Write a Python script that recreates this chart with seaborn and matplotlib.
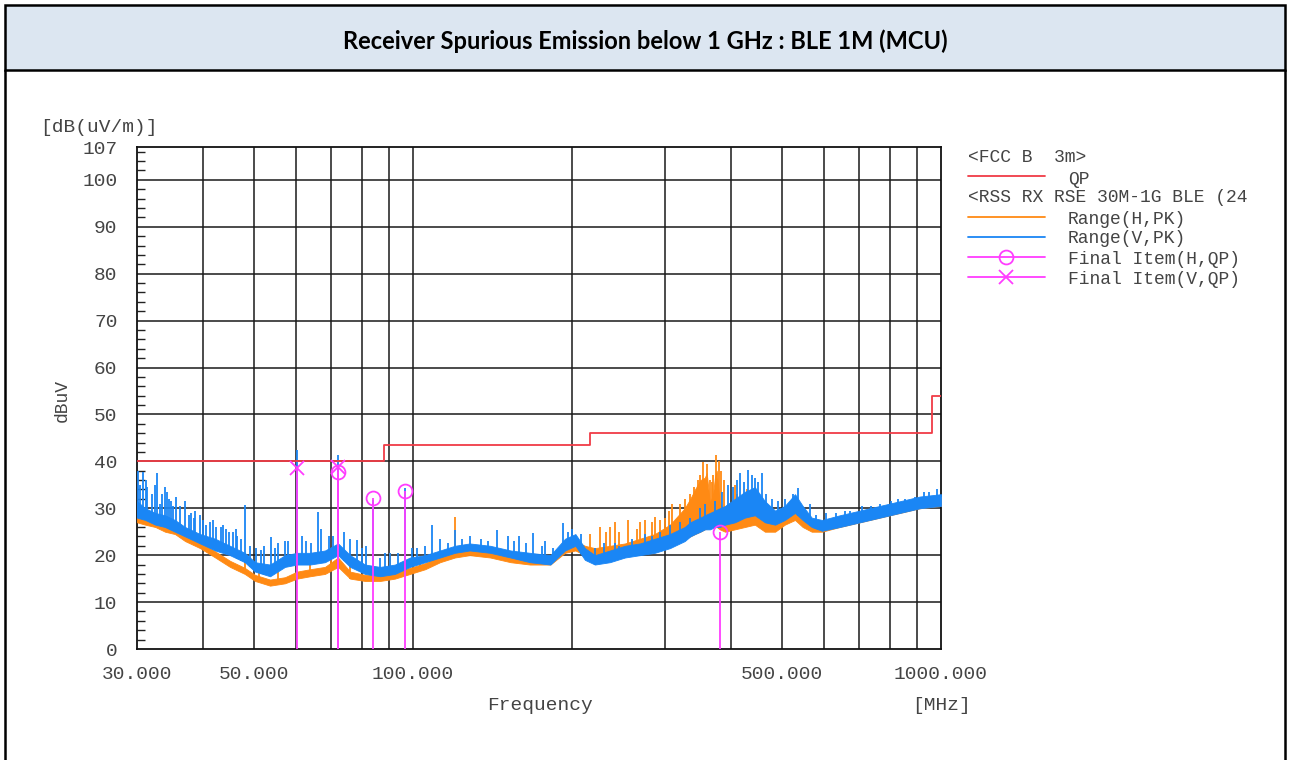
"""
Receiver Spurious Emission below 1 GHz : BLE 1M (MCU)
Recriacao do grafico de varredura (30 MHz - 1 GHz)
"""

import numpy as np
import pandas as pd
import seaborn as sns
import matplotlib.pyplot as plt
from matplotlib.lines import Line2D
from matplotlib.patches import Rectangle

# limite FCC classe B 3m (QP)
limit_f = [30, 88, 216, 960, 1000]
limit_db = [40, 43.5, 46, 54, 54]

# faixa do ruido (envelope inferior/superior)
band_f = [30.0, 31.1, 32.5, 33.9, 35.4, 37.0, 39.5, 42.2, 45.0, 48.0,
          50.2, 53.6, 57.2, 60.3, 63.8, 68.1, 72.1, 76.0, 81.1, 86.6,
          92.4, 98.7, 105.4, 112.5, 120, 128, 140, 153, 166.5, 182,
          194, 203, 211.6, 221, 236, 252, 269, 287, 306.6, 327,
          335, 342, 350, 357, 360, 365, 370, 373, 376, 381,
          390, 407, 425, 444, 464, 485, 506, 529, 547, 569,
          595, 643, 702, 766, 836, 912, 1000]
v_lo = [28, 27.5, 26.5, 26, 25, 24, 22.5, 21, 20, 18.5,
        16.5, 15.5, 17.5, 18, 18, 18.5, 20, 17.5, 16, 15.5,
        16, 17.5, 18.5, 19.5, 20.5, 21, 20.5, 19.5, 18.5, 18,
        21, 22, 19, 18, 18.5, 19.5, 20, 20.5, 21.5, 23,
        24, 24.5, 25, 25.5, 25.5, 25.5, 25.8, 26, 26, 26,
        26.5, 27, 28, 28.5, 27, 26.5, 27.5, 29, 27.5, 26,
        25.2, 26, 27, 28, 29, 30, 30.5]
v_hi = [31.5, 30, 29, 28.5, 27.5, 26, 24.5, 23.5, 22, 20.5,
        18.5, 18, 20, 20.5, 20.5, 21, 22.5, 20, 18, 17.5,
        18, 19.5, 20, 21, 22, 22.5, 22, 21, 20.5, 20,
        23.5, 24.5, 21.5, 20, 21, 22, 22.5, 23.5, 24.5, 26,
        27, 27.5, 28, 28.5, 28.7, 29, 29.3, 29.5, 29.7, 30,
        30.5, 32, 33.5, 34.5, 31.5, 29.5, 30.5, 33, 30.5, 28,
        27.5, 28.5, 29.5, 30.5, 31.5, 32.5, 33]
h_lo = [27, 26.5, 26, 25, 24.5, 23, 21.5, 19.5, 17.5, 16,
        14.5, 13.5, 14, 15, 15.5, 16, 17.5, 15, 14.5, 14.5,
        15, 16, 17, 18.5, 19.5, 20, 19.5, 18.5, 18, 18,
        20.5, 21, 20, 19.5, 20, 20.5, 21.5, 22, 22.5, 23.5,
        24, 24.5, 25, 25.5, 25.7, 26, 26, 26, 26, 25.5,
        25, 25.5, 26, 26.5, 25, 25, 26.5, 27.5, 26, 25,
        25, 26, 27, 28, 29, 30, 30.5]
h_hi = [28.5, 27.8, 27.2, 26.3, 25.8, 24.3, 22.8, 20.8, 18.8, 17.3,
        15.8, 14.8, 15.3, 16.5, 17, 17.5, 19.5, 16.5, 15.8, 15.8,
        16.3, 17.3, 18.3, 19.8, 20.8, 21.3, 20.8, 19.8, 19.3, 19.3,
        22.3, 23, 22, 21.5, 22, 22.5, 23.5, 24.5, 26.5, 30,
        32, 34, 36, 36.5, 37.5, 31, 33, 36.5, 38, 31,
        29.5, 28.5, 29, 29.5, 27.5, 27, 29, 30, 28, 26.5,
        26.5, 28, 29, 30, 31, 32, 32.5]

# picos estreitos
v_spike_f = [30.1, 30.4, 30.8, 31.2, 31.4, 32.0, 32.5, 32.8, 33.2, 33.5,
             33.9, 34.2, 34.5, 34.8, 35.1, 35.6, 36.2, 37.0, 37.6, 37.9,
             38.4, 38.7, 39.5, 40.0, 40.6, 41.2, 41.8, 42.4, 43.3, 43.6,
             44.2, 44.8, 45.5, 46.2, 46.5, 47.3, 48.1, 49.1, 50.5, 51.6,
             52.3, 53.9, 54.8, 55.6, 57.2, 58.0, 60.3, 61.5, 62.6, 64.2,
             66.2, 67.0, 69.2, 70.5, 72.1, 74.1, 76.0, 78.4, 80.0, 81.4,
             84.0, 86.6, 88.5, 90.5, 93.7, 96.5, 99.6, 101.8, 105.4, 108.6,
             112.5, 116.5, 120, 123.7, 128, 134.5, 138.6, 144.5, 151, 155,
             159, 163.5, 168.6, 175.8, 177.7, 184.5, 192, 196.5, 200, 208,
             221, 229.5, 241, 246, 259.8, 275, 283, 293, 307, 320,
             334, 349, 357, 373, 385, 395, 404, 410, 416, 423,
             431, 438, 444, 450, 458, 466, 478, 491, 506, 524,
             536, 565, 580, 605, 632, 659, 672, 709, 736, 766,
             804, 829, 853, 893, 929, 949, 982]
v_spike_db = [38, 35, 37.7, 36, 34.5, 33, 35, 37.5, 31, 33,
              34.5, 33.5, 32, 31.5, 30.5, 32.4, 30.5, 31.5, 28.5, 29,
              28, 29.5, 28.5, 27.5, 26.5, 27, 27.5, 26, 26, 26.5,
              25.5, 25, 25, 25.5, 24, 23.5, 30.7, 22, 21.5, 21,
              22, 23.9, 21.5, 22.5, 23, 23, 42.4, 24, 23, 22.5,
              29.2, 25.5, 24, 24, 41.4, 25, 23.5, 23.2, 21.5, 22,
              31.8, 19.5, 20.5, 20.5, 20.5, 34.3, 21.5, 21.5, 22, 26.4,
              23.5, 22.5, 25.4, 23.5, 24, 23.5, 23, 25.4, 24, 23,
              24, 22.5, 24.7, 22, 23, 21.5, 26.9, 25, 25.5, 24.5,
              21.5, 22.5, 22.5, 22, 23.5, 24.5, 24, 25, 26.5, 27,
              28, 30, 31, 31.5, 33.5, 35, 34.5, 36, 37.5, 35.5,
              38.2, 37, 36.5, 35.5, 37.5, 33, 32, 31.5, 32, 33,
              34.3, 31, 28.5, 29, 29, 29.5, 29.5, 30.5, 30.5, 31,
              31.5, 32, 32, 32.5, 33.5, 33.5, 34]
h_spike_f = [31.7, 34.5, 39.5, 48.1, 51, 55.6, 60.3, 63.8, 70, 72.1,
             76, 90.5, 103, 120, 216, 226, 232, 236, 241, 246,
             255, 265, 269, 275, 283, 287, 293, 300, 305, 309,
             320, 327, 334, 340, 346, 349, 354, 360, 365, 368,
             370, 375, 380, 383, 388, 407, 411, 429, 495]
h_spike_db = [28.5, 27, 24, 20.5, 17, 17, 21.5, 18.5, 19.5, 21,
              18.5, 20.4, 19, 28.2, 24.5, 26, 25, 26, 27, 25,
              27.5, 25.5, 27, 27.5, 27, 28.2, 27.5, 28, 29.5, 31,
              31, 32, 33, 34.5, 36, 37, 39.9, 39.5, 36, 35.5,
              37, 41.4, 40, 38, 36, 35, 33, 34, 29.5]

# Final Item (QP)
h_qp_f = [72.1, 84.0, 96.5, 381]
h_qp_db = [37.7, 32.2, 33.7, 24.9]
v_qp_f = [60.3, 72.1]
v_qp_db = [38.6, 38.8]

cor_h = '#ff8a14'
cor_v = '#1a86f5'
cor_lim = '#f03c46'
cor_qp = '#ff3dff'
cor_txt = '#444444'
mono = 'Liberation Mono'

sns.set_style('white')

W, H = 1290, 760
fig = plt.figure(figsize=(12.9, 7.6), dpi=100)


def px(x, y):
    return x / W, 1 - y / H


# moldura e cabecalho
fig.add_artist(Rectangle(px(5, 70), 1280 / W, 65 / H, transform=fig.transFigure,
                         facecolor='#dce6f1', edgecolor='black', lw=1.8))
fig.add_artist(Line2D([5 / W, 5 / W], [0, 1 - 70 / H], transform=fig.transFigure,
                      color='black', lw=1.8))
fig.add_artist(Line2D([1285 / W, 1285 / W], [0, 1 - 70 / H], transform=fig.transFigure,
                      color='black', lw=1.8))
fig.text(*px(645, 41), 'Receiver Spurious Emission below 1 GHz : BLE 1M (MCU)',
         ha='center', va='center', fontsize=17, fontweight='bold',
         family='Lato', color='black')

x0, y0 = px(137, 649)
x1, y1 = px(941, 147)
ax = fig.add_axes([x0, y0, x1 - x0, y1 - y0])
ax.set_xscale('log')
ax.set_xlim(30, 1000)
ax.set_ylim(0, 107)

# grade
for g in [40, 50, 60, 70, 80, 90, 100, 200, 300, 400, 500, 600, 700, 800, 900]:
    ax.axvline(g, color='#1a1a1a', lw=1.1, zorder=1)
for g in range(10, 101, 10):
    ax.axhline(g, color='#1a1a1a', lw=1.1, zorder=1)


def desenha(lo, hi, sf, sdb, cor, z):
    ax.fill_between(band_f, lo, hi, color=cor, lw=0.6, zorder=z)
    base = np.interp(np.log(sf), np.log(band_f), lo)
    ax.vlines(sf, base, sdb, color=cor, lw=1.3, zorder=z)


desenha(h_lo, h_hi, h_spike_f, h_spike_db, cor_h, 3)
desenha(v_lo, v_hi, v_spike_f, v_spike_db, cor_v, 4)

lim = pd.DataFrame({'f': limit_f, 'db': limit_db})
sns.lineplot(data=lim, x='f', y='db', ax=ax, color=cor_lim, lw=1.3,
             drawstyle='steps-post', zorder=5)

ax.vlines(h_qp_f, 0, h_qp_db, color=cor_qp, lw=1.3, zorder=6)
ax.vlines(v_qp_f, 0, v_qp_db, color=cor_qp, lw=1.3, zorder=6)
ax.plot(h_qp_f, h_qp_db, 'o', ms=10, mfc='none', mec=cor_qp, mew=1.3, zorder=7)
ax.plot(v_qp_f, v_qp_db, 'x', ms=10, mec=cor_qp, mew=1.3, zorder=7)

# eixos
ax.set_xticks([30, 50, 100, 500, 1000])
ax.set_xticklabels(['30.000', '50.000', '100.000', '500.000', '1000.000'])
ax.xaxis.set_minor_locator(plt.NullLocator())
ax.set_yticks([0, 10, 20, 30, 40, 50, 60, 70, 80, 90, 100, 107])
ax.set_yticks(np.arange(0, 107, 2), minor=True)
ax.tick_params(axis='both', which='major', length=0, labelsize=14,
               labelcolor=cor_txt)
ax.tick_params(axis='x', pad=12)
ax.tick_params(axis='y', pad=14)
ax.tick_params(axis='y', which='minor', direction='in', length=6,
               width=1, color='#222222', left=True)
for lab in ax.get_xticklabels() + ax.get_yticklabels():
    lab.set_family(mono)
ax.set_xlabel('')
ax.set_ylabel('')
for s in ax.spines.values():
    s.set_color('#111111')
    s.set_linewidth(1.3)

fig.text(*px(40, 127), '[dB(uV/m)]', ha='left', va='center', fontsize=14,
         family=mono, color=cor_txt)
fig.text(*px(62, 400), 'dBuV', ha='center', va='center', rotation=90,
         fontsize=13, family=mono, color=cor_txt)
fig.text(*px(540, 706), 'Frequency', ha='center', va='center', fontsize=14,
         family=mono, color=cor_txt)
fig.text(*px(941, 706), '[MHz]', ha='center', va='center', fontsize=14,
         family=mono, color=cor_txt)


# legenda montada a mao
def linha_leg(y, cor, marcador=None):
    xa, ya = px(968, y)
    xb, _ = px(1045, y)
    fig.add_artist(Line2D([xa, xb], [ya, ya], transform=fig.transFigure,
                          color=cor, lw=1.3))
    if marcador:
        xm, _ = px(1006, y)
        fig.add_artist(Line2D([xm], [ya], transform=fig.transFigure,
                              marker=marcador, ms=10, mfc='none', mec=cor,
                              mew=1.3, lw=0))


def texto_leg(x, y, s):
    fig.text(*px(x, y), s, ha='left', va='center', fontsize=13,
             family=mono, color=cor_txt)


texto_leg(968, 158, '<FCC B  3m>')
linha_leg(176, cor_lim)
texto_leg(1068, 179, 'QP')
texto_leg(968, 198, '<RSS RX RSE 30M-1G BLE (24')
linha_leg(217, cor_h)
texto_leg(1068, 219, 'Range(H,PK)')
linha_leg(237, cor_v)
texto_leg(1068, 239, 'Range(V,PK)')
linha_leg(257, cor_qp, 'o')
texto_leg(1068, 259, 'Final Item(H,QP)')
linha_leg(277, cor_qp, 'x')
texto_leg(1068, 279, 'Final Item(V,QP)')

fig.savefig('out.png', dpi=100)
